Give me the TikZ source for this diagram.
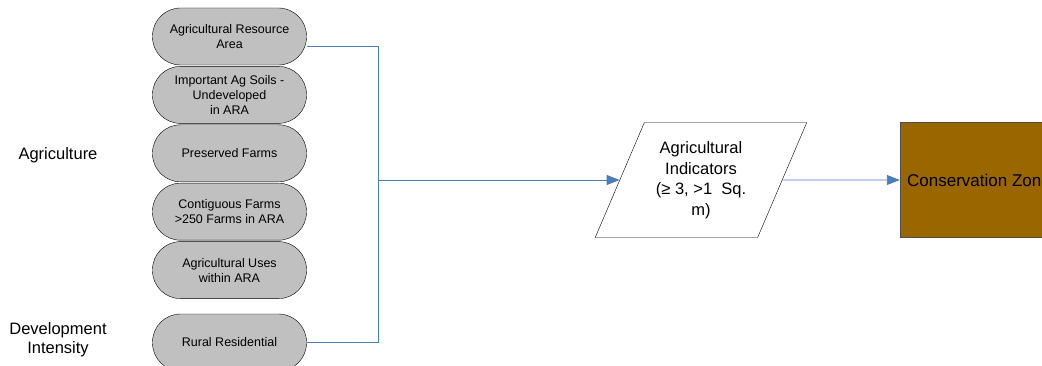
\documentclass[tikz,border=0pt]{standalone}
\usepackage{fontspec}
\setmainfont{Liberation Sans}
\usepackage{xcolor}
\usepackage{tikz}
\usetikzlibrary{
	positioning,      % Per impilare le pillole (below=of)
	arrows.meta,      % Per le punte Triangle
	shapes.geometric  % Per il parallelogramma (trapezium)
}
\definecolor{linkblu}{HTML}{4A7EBB}
\definecolor{pillgrigio}{HTML}{C0C0C0}
\definecolor{marrone}{HTML}{996600}

\begin{document}
\begin{tikzpicture}[x=1pt, y=-1pt, >={Triangle[length=13pt,width=10pt]},
		pill/.style={draw=black, fill=pillgrigio, rectangle, rounded corners=28pt,
			minimum width=154pt, minimum height=57pt, inner sep=0pt, align=center,
			font=\fontsize{12.5}{15}\selectfont},
		etichetta/.style={align=center, font=\fontsize{16.5}{19}\selectfont},
		link/.style={draw=linkblu, line width=0.9pt}]
		
		% --- Area visibile ---
		\clip (0,0) rectangle (1042,366);
		
		% --- Pillole ---
		% Colonna dei criteri agricoli
		\node[pill] (agra) at (229.5,36.5) {Agricultural Resource\\Area};
		\node[pill, below=1pt of agra] (soils) {Important Ag Soils -\\Undeveloped\\in ARA};
		\node[pill, below=1pt of soils] (preserved) {Preserved Farms};
		\node[pill, below=1pt of preserved] (contiguous) {Contiguous Farms\\>250 Farms in ARA};
		\node[pill, below=1pt of contiguous] (aguses) {Agricultural Uses\\within ARA};
		% Intensità di sviluppo
		\node[pill, below=15pt of aguses] (rural) {Rural Residential};
		
		% --- Etichette ---
		\node[etichetta] (agri) at (58,155) {Agriculture};
		\node[etichetta] (devint) at (58,340) {Development\\Intensity};
		
		% --- Indicatori e zona ---
		\node[trapezium, trapezium left angle=63, trapezium right angle=117,
			trapezium stretches=true, draw=black, fill=white,
			minimum width=212pt, minimum height=115pt, inner sep=0pt, align=center,
			font=\fontsize{16.5}{20.5}\selectfont]
			(indicators) at (701,180) {Agricultural\\Indicators\\(≥ 3, >1\ \ Sq.\\m)};
		\node[draw=black!70, fill=marrone, minimum width=158pt, minimum height=115pt,
			inner sep=0pt, font=\fontsize{17}{19}\selectfont]
			(conszone) at (979,180) {Conservation Zone};
		
		% --- Collegamenti ---
		\coordinate (junc) at (378,180);
		\draw[link] (agra.-7) -| (junc);
		\draw[link] (rural.east) -| (junc);
		\draw[link, ->] (junc) -- (indicators);
		\draw[link, ->] (indicators) -- (conszone);
	\end{tikzpicture}
\end{document}
